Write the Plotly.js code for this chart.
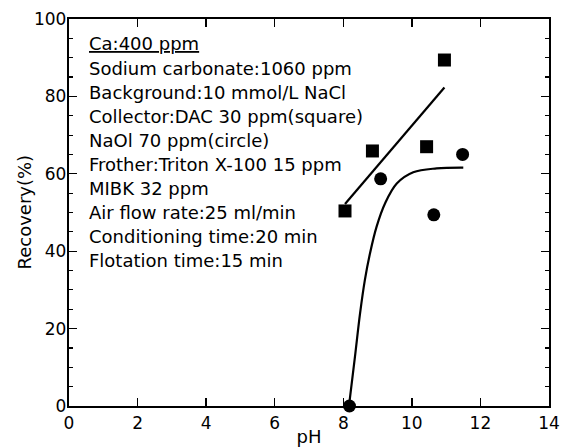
<!DOCTYPE html>
<html>
<head>
<meta charset="utf-8">
<script src="https://cdn.plot.ly/plotly-3.0.1.min.js"></script>
<style>html,body{margin:0;padding:0;background:#fff;}#chart{width:568px;height:447px;}</style>
</head>
<body>
<div id="chart"></div>
<script>
// DAC collector (squares)
var dacPH = [8.05, 8.85, 10.43, 10.95];
var dacRecovery = [50.4, 65.9, 67.0, 89.4];
// fitted line for DAC
var dacFitPH = [8.05, 10.95];
var dacFitRecovery = [52.2, 82.3];
// NaOl collector (circles)
var naolPH = [8.18, 9.09, 10.64, 11.48];
var naolRecovery = [0, 58.7, 49.4, 65.0];
// fitted curve for NaOl
var naolFitPH = [8.17, 8.34, 8.49, 8.63, 8.78, 8.97, 9.22, 9.56, 10.04, 10.72, 11.5];
var naolFitRecovery = [0.3, 12.7, 24.0, 32.6, 39.5, 46.3, 52.4, 57.5, 60.4, 61.4, 61.6];

var conditionLines = [
  '<u>Ca:400 ppm</u>',
  'Sodium carbonate:1060 ppm',
  'Background:10 mmol/L NaCl',
  'Collector:DAC 30 ppm(square)',
  'NaOl 70 ppm(circle)',
  'Frother:Triton X-100 15 ppm',
  'MIBK 32 ppm',
  'Air flow rate:25 ml/min',
  'Conditioning time:20 min',
  'Flotation time:15 min'
];
var yTitle = 'Recovery(%)';
var xTitle = 'pH';

var FONT = 'DejaVu Sans, Liberation Sans, Arial, sans-serif';

var traces = [
  {x: dacFitPH, y: dacFitRecovery, mode: 'lines', line: {color: '#000', width: 2.2}, hoverinfo: 'skip'},
  {x: naolFitPH, y: naolFitRecovery, mode: 'lines', line: {color: '#000', width: 2.2, shape: 'spline'}, hoverinfo: 'skip'},
  {x: dacPH, y: dacRecovery, mode: 'markers', marker: {symbol: 'square', size: 13, color: '#000'}},
  {x: naolPH, y: naolRecovery, mode: 'markers', marker: {symbol: 'circle', size: 13, color: '#000'}, cliponaxis: false}
];

var plotLeft = 69, plotW = 480, plotTop = 19, plotH = 387;
var annotations = conditionLines.map(function (t, i) {
  var yc = 44 + 24.1 * i;
  return {
    text: t, xref: 'x', yref: 'paper', x: 0.525, y: 1 - (yc - plotTop) / plotH,
    xanchor: 'left', yanchor: 'middle', showarrow: false,
    font: {family: FONT, size: 18, color: '#000'}
  };
});
annotations.push({
  text: yTitle, xref: 'paper', yref: 'paper', x: (24 - plotLeft) / plotW, y: 0.5,
  xanchor: 'center', yanchor: 'middle', textangle: -90, showarrow: false,
  font: {family: FONT, size: 18, color: '#000'}
});

var layout = {
  width: 568, height: 447,
  margin: {l: 69, r: 19, t: 19, b: 41, pad: 0},
  paper_bgcolor: '#fff', plot_bgcolor: '#fff',
  showlegend: false,
  font: {family: FONT, size: 17, color: '#000'},
  xaxis: {
    range: [0, 14], dtick: 2, tick0: 0,
    showgrid: false, zeroline: false,
    showline: true, linecolor: '#000', linewidth: 2.2, mirror: 'allticks',
    ticks: 'inside', ticklen: 8, tickwidth: 1.3, tickcolor: '#000',
    tickfont: {family: FONT, size: 17, color: '#000'},
    title: {text: xTitle, font: {family: FONT, size: 18, color: '#000'}, standoff: 2}
  },
  yaxis: {
    range: [0, 100], dtick: 20, tick0: 0,
    showgrid: false, zeroline: false,
    showline: true, linecolor: '#000', linewidth: 2.2, mirror: 'allticks',
    ticks: 'inside', ticklen: 8, tickwidth: 1.3, tickcolor: '#000',
    ticklabelstandoff: -3,
    minor: {dtick: 5, ticklen: 4, tickwidth: 1.2, tickcolor: '#000', ticks: 'inside', showgrid: false},
    tickfont: {family: FONT, size: 17, color: '#000'}
  },
  annotations: annotations
};

Plotly.newPlot('chart', traces, layout, {staticPlot: true, displayModeBar: false});
</script>
</body>
</html>
